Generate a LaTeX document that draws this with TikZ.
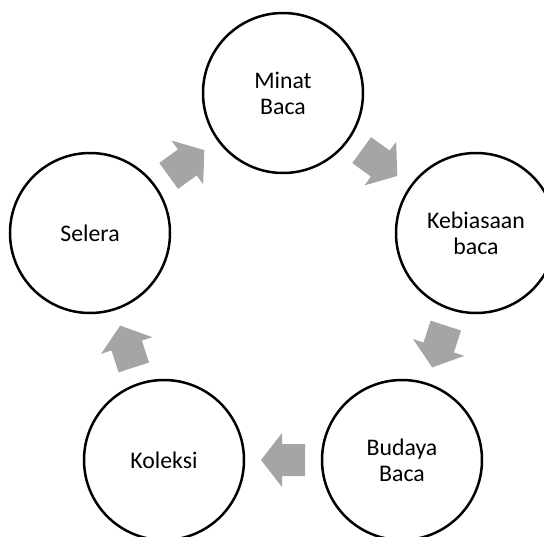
\documentclass[tikz,border=0pt]{standalone}
\usepackage{fontspec}
\setmainfont{Carlito}
\usetikzlibrary{calc}
\definecolor{cygray}{HTML}{A5A5A5}
\tikzset{
  cycnode/.style={circle, draw=black, line width=2.5pt, minimum size=160pt, inner sep=0pt,
    align=center, font=\fontsize{23.8}{26}\selectfont, text=black},
  cyfill/.style={fill=cygray}
}
\newcommand\cyarrow[2]{%
  \pgfmathanglebetweenpoints{\pgfpointanchor{#1}{center}}{\pgfpointanchor{#2}{center}}%
  \let\cyang\pgfmathresult
  \fill[cyfill, shift={($(#1)!0.5!(#2)$)}, rotate=\cyang]
    (22pt,0pt) -- (1pt,27pt) -- (1pt,16pt) -- (-22pt,16pt) -- (-22pt,-16pt)
    -- (1pt,-16pt) -- (1pt,-27pt) -- cycle;
}
\begin{document}
\begin{tikzpicture}[x=1pt,y=-1pt]
\useasboundingbox (0,0) rectangle (544,536);
\begin{scope}
\clip (0,0) rectangle (544,536);
\node[cycnode] (top) at (283,93) {Minat\\Baca};
\node[cycnode] (rgt) at (476,233) {Kebiasaan\\baca};
\node[cycnode] (br) at (402,460) {Budaya\\Baca};
\node[cycnode] (bl) at (164,460) {Koleksi};
\node[cycnode] (lft) at (90,233) {Selera};
\end{scope}
\cyarrow{top}{rgt}
\cyarrow{rgt}{br}
\cyarrow{br}{bl}
\cyarrow{bl}{lft}
\cyarrow{lft}{top}
\end{tikzpicture}
\end{document}
